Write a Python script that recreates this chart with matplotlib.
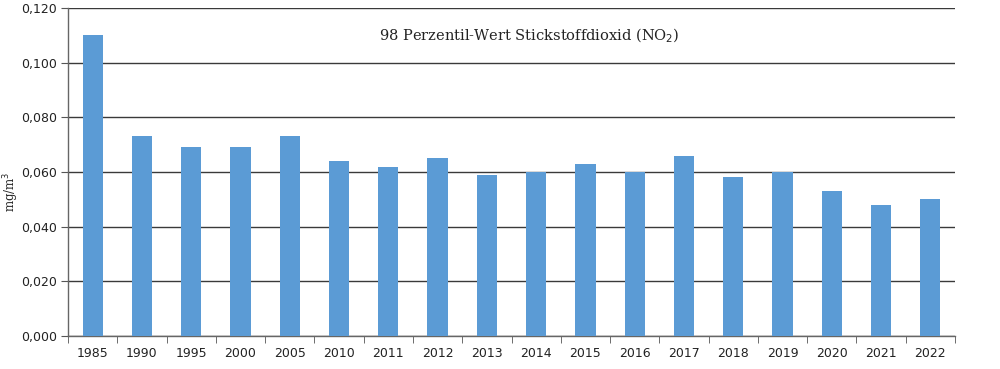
import numpy as np
import matplotlib
matplotlib.use("Agg")
import matplotlib.pyplot as plt
from matplotlib.ticker import FuncFormatter, FixedLocator

# Daten (mg/m³)
jahre = ["1985", "1990", "1995", "2000", "2005", "2010", "2011", "2012", "2013",
         "2014", "2015", "2016", "2017", "2018", "2019", "2020", "2021", "2022"]
werte = [0.110, 0.073, 0.069, 0.069, 0.073, 0.064, 0.062, 0.065, 0.059,
         0.060, 0.063, 0.060, 0.066, 0.058, 0.060, 0.053, 0.048, 0.050]

fig = plt.figure(figsize=(10, 3.69), dpi=100)
ax = fig.add_axes([0.068, 0.0894, 0.887, 0.889])

x = np.arange(len(jahre))
ax.bar(x, werte, width=0.41, color="#5b9bd5", zorder=3)

ax.set_xlim(-0.5, len(jahre) - 0.5)
ax.set_ylim(0, 0.120)
ax.set_yticks(np.arange(0, 0.1201, 0.020))
ax.yaxis.set_major_formatter(FuncFormatter(lambda v, p: f"{v:.3f}".replace(".", ",")))
ax.grid(axis="y", color="#3a3a3a", linewidth=1.0, zorder=0)

ax.set_xticks(x)
ax.set_xticklabels(jahre)
ax.xaxis.set_minor_locator(FixedLocator(np.arange(-0.5, len(jahre), 1.0)))
ax.tick_params(axis="x", which="major", length=0, pad=8, labelsize=9, colors="#222222")
ax.tick_params(axis="x", which="minor", length=5, direction="out", color="#555555")
ax.tick_params(axis="y", length=5, direction="out", color="#555555", labelsize=9,
               labelcolor="#222222", pad=3)

for s in ["top", "right"]:
    ax.spines[s].set_visible(False)
for s in ["left", "bottom"]:
    ax.spines[s].set_color("#666666")
    ax.spines[s].set_linewidth(1.0)

fig.text(0.011, 0.48, "mg/m$^3$", rotation=90, ha="center", va="center",
         family="DejaVu Serif", fontsize=8.5, color="#222222")
ax.text(0.52, 0.915, "98 Perzentil-Wert Stickstoffdioxid (NO$_2$)", transform=ax.transAxes,
        ha="center", va="center", family="DejaVu Serif", fontsize=10.5, color="#222222")

fig.savefig("out.png", dpi=100)
